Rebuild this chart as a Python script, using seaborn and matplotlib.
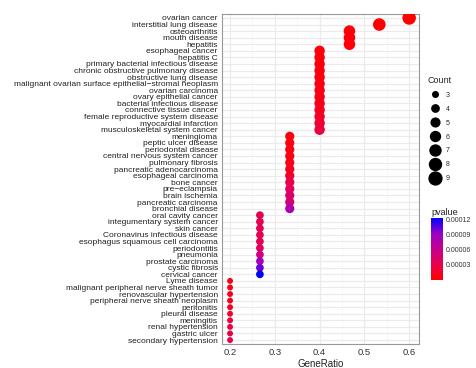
import numpy as np
import pandas as pd
import matplotlib
matplotlib.use("Agg")
import matplotlib.pyplot as plt
from matplotlib.colors import LinearSegmentedColormap, Normalize
from matplotlib.lines import Line2D
from matplotlib.ticker import MultipleLocator, FuncFormatter
import seaborn as sns

terms = [
    "ovarian cancer", "interstitial lung disease", "osteoarthritis", "mouth disease", "hepatitis",
    "esophageal cancer", "hepatitis C", "primary bacterial infectious disease",
    "chronic obstructive pulmonary disease", "obstructive lung disease",
    "malignant ovarian surface epithelial\u2212stromal neoplasm", "ovarian carcinoma",
    "ovary epithelial cancer", "bacterial infectious disease", "connective tissue cancer",
    "female reproductive system disease", "myocardial infarction", "musculoskeletal system cancer",
    "meningioma", "peptic ulcer disease", "periodontal disease", "central nervous system cancer",
    "pulmonary fibrosis", "pancreatic adenocarcinoma", "esophageal carcinoma", "bone cancer",
    "pre\u2212eclampsia", "brain ischemia", "pancreatic carcinoma", "bronchial disease",
    "oral cavity cancer", "integumentary system cancer", "skin cancer",
    "Coronavirus infectious disease", "esophagus squamous cell carcinoma", "periodontitis",
    "pneumonia", "prostate carcinoma", "cystic fibrosis", "cervical cancer",
    "Lyme disease", "malignant peripheral nerve sheath tumor", "renovascular hypertension",
    "peripheral nerve sheath neoplasm", "peritonitis", "pleural disease", "meningitis",
    "renal hypertension", "gastric ulcer", "secondary hypertension",
]
counts = [9, 8, 7, 7, 7] + [6] * 13 + [5] * 12 + [4] * 10 + [3] * 10
gene_ratio = [c / 15 for c in counts]
pvalues = [
    0.5e-6, 1e-6, 2e-6, 3e-6, 4e-6,
    2e-6, 3e-6, 4e-6, 5e-6, 6e-6, 7e-6, 8e-6, 9e-6, 1e-5, 1.2e-5, 1.5e-5, 1.8e-5, 2.6e-5,
    4e-6, 6e-6, 7e-6, 8e-6, 1e-5, 1.2e-5, 1.6e-5, 2.8e-5, 3.6e-5, 4.2e-5, 5e-5, 8e-5,
    3e-5, 3.1e-5, 3.2e-5, 3.3e-5, 3.4e-5, 3.6e-5, 5.5e-5, 8.5e-5, 1e-4, 1.22e-4,
    8e-6, 1e-5, 1.1e-5, 1.2e-5, 1.5e-5, 1.9e-5, 2.4e-5, 2.7e-5, 2.9e-5, 3.1e-5,
]
count_levels = [3, 4, 5, 6, 7, 8, 9]
pv_ticks = [0.00003, 0.00006, 0.00009, 0.00012]

df = pd.DataFrame({"Description": terms, "GeneRatio": gene_ratio,
                   "Count": counts, "pvalue": pvalues})

sns.set_style("whitegrid")
plt.rcParams["font.family"] = ["Liberation Sans", "DejaVu Sans"]

cmap = LinearSegmentedColormap.from_list(
    "rb", ["#FF0000", "#E8004E", "#C8008E", "#9A00C6", "#0000FF"])
pnorm = Normalize(0, 0.000122)
size_rng = (18, 95)

fig = plt.figure(figsize=(4.76, 3.68), dpi=100)
ax = fig.add_axes([222 / 476, 1 - 344 / 368, 197 / 476, 330 / 368])

sns.scatterplot(data=df, x="GeneRatio", y="Description", hue="pvalue", size="Count",
                palette=cmap, hue_norm=pnorm, sizes=size_rng, size_norm=(3, 9),
                linewidth=0, alpha=1, legend=False, ax=ax, zorder=3)

ax.set_xlim(0.182, 0.622)
ax.set_ylim(len(terms) - 0.4, -0.6)
ax.xaxis.set_major_locator(MultipleLocator(0.1))
ax.xaxis.set_minor_locator(MultipleLocator(0.05))
ax.xaxis.set_major_formatter(FuncFormatter(lambda v, p: f"{v:.1f}"))
ax.grid(True, which="major", color="#EBEBEB", linewidth=0.9)
ax.grid(True, which="minor", axis="x", color="#F4F4F4", linewidth=0.5)
ax.set_axisbelow(True)
for sp in ax.spines.values():
    sp.set_color("#999999")
    sp.set_linewidth(0.8)
ax.tick_params(axis="y", labelsize=6.0, pad=1, length=2, color="#555555",
               labelcolor="#222222")
ax.tick_params(axis="x", labelsize=6.8, pad=1, length=2, color="#555555",
               labelcolor="#333333")
ax.set_ylabel("")
ax.set_xlabel("GeneRatio", fontsize=7, labelpad=1, color="#222222")

# Count legend
def size_of(c):
    return size_rng[0] + (c - 3) / 6 * (size_rng[1] - size_rng[0])

handles = [Line2D([], [], marker="o", linestyle="", color="black",
                  markersize=np.sqrt(size_of(c)) * 0.95) for c in count_levels]
leg = fig.legend(handles, [str(c) for c in count_levels], title="Count",
                 loc="upper left", bbox_to_anchor=(425 / 476, 1 - 73 / 368),
                 frameon=False, fontsize=5, title_fontsize=6.5, labelspacing=1.0,
                 handletextpad=0.6, borderaxespad=0, alignment="left")

# pvalue colorbar
cax = fig.add_axes([431 / 476, 1 - 280 / 368, 12 / 476, 62 / 368])
sm = plt.cm.ScalarMappable(norm=pnorm, cmap=cmap)
cb = fig.colorbar(sm, cax=cax, ticks=pv_ticks)
cb.outline.set_visible(False)
cb.ax.set_yticklabels(["0.00003", "0.00006", "0.00009", "0.00012"])
cb.ax.tick_params(labelsize=5, length=3, color="white", width=0.6, pad=2,
                  direction="in", labelcolor="#333333")
cb.ax.set_title("pvalue", fontsize=6.5, loc="left", pad=2, color="#222222")

fig.savefig("out.png", dpi=100)
